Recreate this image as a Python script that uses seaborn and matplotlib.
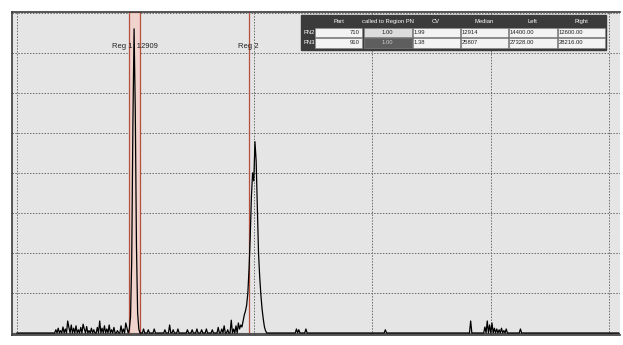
import numpy as np
import pandas as pd
import matplotlib
matplotlib.use("Agg")
import matplotlib.pyplot as plt
from matplotlib.patches import Rectangle
import seaborn as sns

# ---- data ----
noise_left_ch = [66, 70, 74, 78, 82, 86, 88, 92, 96, 100, 104, 108, 112, 114, 118, 122, 126, 130,
                 136, 140, 144, 148, 152, 156, 160, 164, 170, 176, 180, 184, 186]
noise_left_ct = [8, 12, 6, 15, 10, 30, 14, 20, 12, 18, 8, 14, 22, 10, 16, 6, 12, 8,
                 14, 30, 12, 18, 10, 20, 8, 14, 6, 18, 10, 25, 12]
peak1_ch = [190, 192, 194, 196, 198, 200, 202, 204, 206]
peak1_ct = [10, 40, 180, 520, 760, 560, 220, 50, 10]
noise_mid_ch = [214, 222, 232, 250, 258, 264, 272, 288, 296, 304, 312, 320, 330, 340, 346, 350,
                356, 362, 366, 370, 374]
noise_mid_ct = [10, 8, 10, 8, 20, 8, 10, 8, 8, 10, 8, 10, 8, 14, 10, 18, 8, 32, 10, 18, 25]
peak2_ch = [376, 378, 380, 382, 384, 386, 388, 390, 392, 394, 396, 398, 400, 402, 404, 406,
            408, 410, 412, 414, 416, 418, 420]
peak2_ct = [10, 20, 15, 30, 45, 55, 70, 100, 160, 240, 340, 400, 380, 478, 430, 310,
            200, 140, 95, 60, 35, 15, 5]
noise_right_ch = [472, 476, 488, 622, 766, 790, 794, 798, 802, 806, 810, 814, 818, 822, 826, 850]
noise_right_ct = [10, 8, 10, 8, 30, 15, 30, 20, 25, 12, 10, 8, 12, 6, 10, 10]

table_cols = ["", "Part", "called to Region PN", "CV", "Median", "Left", "Right"]
table_rows = [["PN2", "710", "1.00", "1.99", "12914", "14400.00", "12600.00"],
              ["PN3", "910", "1.00", "1.38", "25807", "27328.00", "28216.00"]]

reg1_bounds = (190, 208.5)
reg2_pos = 392
reg1_label = "Reg 1: 12909"
reg2_label = "Reg 2"

# ---- build histogram frame ----
sparse = pd.Series(
    noise_left_ct + peak1_ct + noise_mid_ct + peak2_ct + noise_right_ct,
    index=noise_left_ch + peak1_ch + noise_mid_ch + peak2_ch + noise_right_ch,
)
grid = pd.Index(np.arange(0, 1018, 2), name="channel")
hist = sparse.groupby(level=0).max().reindex(grid, fill_value=0).reset_index(name="count")

sns.set_style("white")
plt.rcParams["font.family"] = ["Liberation Sans", "DejaVu Sans"]

fig = plt.figure(figsize=(6.23, 3.45), dpi=100)
ax = fig.add_axes([12 / 623, 10 / 345, 608 / 623, 323 / 345])
ax.set_facecolor("#e5e5e5")

# regions
ax.axvspan(*reg1_bounds, facecolor="#f0d3cc", edgecolor="#b5503f", lw=0.9, zorder=1)
ax.axvline(reg2_pos, color="#b5503f", lw=0.9, zorder=1)

sns.lineplot(data=hist, x="channel", y="count", ax=ax, color="black", lw=0.9, zorder=3,
             estimator=None)

ax.set_xlim(-8, 1018)
ax.set_ylim(-5, 802)
ax.set_xticks(np.arange(0, 1001, 200))
ax.set_xticks(np.arange(0, 1018, 50), minor=True)
ax.set_yticks(np.arange(0, 801, 100))
ax.set_yticks(np.arange(0, 801, 20), minor=True)
ax.set_xticklabels([])
ax.set_yticklabels([])
ax.set_xlabel("")
ax.set_ylabel("")
ax.tick_params(which="both", direction="out", color="#777777", width=0.6)
ax.tick_params(which="major", length=4)
ax.tick_params(which="minor", length=2.5)
ax.grid(True, which="major", ls=(0, (1.5, 1.5)), color="#6a6a6a", lw=0.7)
for s in ax.spines.values():
    s.set_color("#3a3a3a")
    s.set_linewidth(1.2)
ax.spines["right"].set_visible(False)
ax.axhline(0, color="#555555", lw=0.8, zorder=2)

ax.text(199, 715, reg1_label, ha="center", va="center", fontsize=5.5, color="#222222", zorder=4)
ax.text(390, 715, reg2_label, ha="center", va="center", fontsize=5.5, color="#222222", zorder=4)

# table
x0, y_top = 302, 16
col_w = [13, 48, 49, 48, 48, 49, 48]
row_h = [11, 10.5, 10.5]
dark = "#3b3b3b"
def px2fig(x, y):
    return x / 623, 1 - y / 345

frame_w = sum(col_w) + 2
fx, fy = px2fig(x0 - 1, y_top + sum(row_h) + 2)
fig.add_artist(Rectangle((fx, fy), frame_w / 623, (sum(row_h) + 3) / 345,
                         transform=fig.transFigure, facecolor=dark, edgecolor=dark, zorder=5))
y = y_top
for r in range(3):
    x = x0
    for c in range(7):
        w, h = col_w[c], row_h[r]
        if r == 0 or c == 0:
            fc, tc = dark, "white"
        elif c == 2 and r == 2:
            fc, tc = "#5e5e5e", "#cccccc"
        elif c == 2:
            fc, tc = "#dcdcdc", "#222222"
        else:
            fc, tc = "#f3f3f3", "#222222"
        bx, by = px2fig(x + 0.5, y + h - 0.5)
        fig.add_artist(Rectangle((bx, by), (w - 1) / 623, (h - 1) / 345,
                                 transform=fig.transFigure, facecolor=fc,
                                 edgecolor="#888888" if r > 0 and c > 0 else dark, lw=0.4, zorder=6))
        txt = table_cols[c] if r == 0 else table_rows[r - 1][c]
        if r == 0 or c == 2:
            ha, tx = "center", x + w / 2
        elif c == 1:
            ha, tx = "right", x + w - 3
        else:
            ha, tx = "left", x + 2
        px_, py_ = px2fig(tx, y + h / 2)
        fig.text(px_, py_, txt, ha=ha, va="center", fontsize=4.2, color=tc, zorder=7)
        x += w
    y += row_h[r]

fig.savefig("out.png", dpi=100, facecolor="white")
